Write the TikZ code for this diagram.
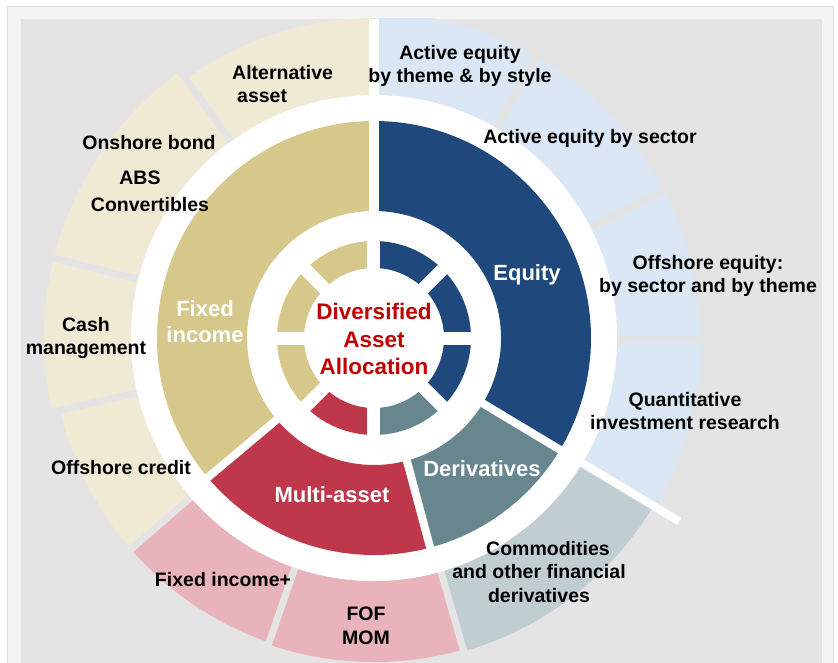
\documentclass[tikz,border=0pt]{standalone}
\usepackage{fontspec}
\setmainfont{Liberation Sans}

\definecolor{bggray}{HTML}{E4E4E4}
\definecolor{framegray}{HTML}{F4F4F4}
\definecolor{equity}{HTML}{1F497D}
\definecolor{fixedinc}{HTML}{D6C78A}
\definecolor{multiasset}{HTML}{BE374A}
\definecolor{deriv}{HTML}{68868D}
\definecolor{equitylt}{HTML}{DCE7F5}
\definecolor{fixedinclt}{HTML}{F0EAD5}
\definecolor{multiassetlt}{HTML}{E8B3BB}
\definecolor{derivlt}{HTML}{C0CDD1}
\definecolor{titlered}{HTML}{C00000}

\begin{document}
\begin{tikzpicture}[x=1pt, y=1pt,
    outlabel/.style={font=\fontsize{19.5}{23.5}\selectfont\bfseries, align=center, inner sep=0pt},
    midlabel/.style={font=\fontsize{22}{26}\selectfont\bfseries, text=white, align=center, inner sep=0pt},
    whitecut/.style={draw=white, line width=8pt}]
  \useasboundingbox (-374,-324) rectangle (464,338);
  % frame
  \filldraw[fill=framegray, draw=black!15] (-367,332) rectangle (459,-340);
  \fill[bggray] (-353,319) rectangle (448,-340);

  % outer ring, one piece per product line
  \begin{scope}
    \clip (-353,319) rectangle (448,-340);
    \foreach \a/\b/\r/\c in {-31/0/328/equitylt, 0/27/326/equitylt, 27/60/325/equitylt, 60/90/325/equitylt,
        90/126/320/fixedinclt, 126/166/330/fixedinclt, 166/193/330/fixedinclt, 193/221/322/fixedinclt,
        221/251/322/multiassetlt, 251/286/324/multiassetlt, 286/329/326/derivlt}{
      \fill[\c] (\a:243pt) arc[start angle=\a, end angle=\b, radius=243pt]
        -- (\b:\r pt) arc[start angle=\b, end angle=\a, radius=\r pt] -- cycle;
    }
    \foreach \a in {0,27,60,126,166,193,221,251,286}
      \draw[bggray, line width=7pt] (\a:200pt) -- (\a:345pt);
  \end{scope}

  \fill[white] (0,0) circle[radius=243pt];

  % main asset classes
  \foreach \a/\b/\c in {-31/90/equity, 90/220/fixedinc, 220/285/multiasset, 285/329/deriv}{
    \fill[\c] (\a:127pt) arc[start angle=\a, end angle=\b, radius=127pt]
      -- (\b:217pt) arc[start angle=\b, end angle=\a, radius=217pt] -- cycle;
  }

  % small inner ring
  \foreach \a/\c in {0/equity, 45/equity, 90/fixedinc, 135/fixedinc, 180/fixedinc,
      225/multiasset, 270/deriv, 315/equity}{
    \fill[\c] (\a:70pt) arc[start angle=\a, delta angle=45, radius=70pt]
      -- ({\a+45}:97pt) arc[start angle=\a+45, delta angle=-45, radius=97pt] -- cycle;
  }
  \foreach \a in {0,45,90,135}
    \draw[white, line width=13pt] (\a:104pt) -- ({\a+180}:104pt);

  % separators
  \draw[whitecut, line width=10pt] (90:110pt) -- (0,319);
  \draw[whitecut] (-31:110pt) -- (-31:356pt);
  \foreach \a in {220,285}
    \draw[whitecut] (\a:110pt) -- (\a:240pt);

  % outer labels
  \node[outlabel] (themeeq) at (86,272) {Active equity\\by theme \& by style};
  \node[outlabel] (sectoreq) at (216,200) {Active equity by sector};
  \node[outlabel] (offeq) at (334,62) {Offshore equity:\\by sector and by theme};
  \node[outlabel] (quant) at (311,-73) {Quantitative\\investment research};
  \node[outlabel] (commod) at (165,-234) {\hspace*{18pt}Commodities\\and other financial\\derivatives};
  \node[outlabel] (fofmom) at (-8,-288) {FOF\\MOM};
  \node[outlabel] (fiplus) at (-151,-242) {Fixed income+};
  \node[outlabel] (offcredit) at (-253,-130) {Offshore credit};
  \node[outlabel] (cash) at (-288,0) {Cash\\management};
  \node[outlabel] (onshore) at (-225,195) {Onshore bond};
  \node[outlabel] (abs) at (-234,160) {ABS};
  \node[outlabel] (convert) at (-224,133) {Convertibles};
  \node[outlabel, anchor=west, align=left] (altasset) at (-142,254) {Alternative\\\hspace{5pt}asset};

  % asset class labels
  \node[midlabel] (equitylbl) at (153,63) {Equity};
  \node[midlabel] (fixedlbl) at (-169,16) {Fixed\\income};
  \node[midlabel] (multilbl) at (-42,-157) {Multi-asset};
  \node[midlabel] (derivlbl) at (108,-131) {Derivatives};
  \node[midlabel, text=titlered, font=\fontsize{22.5}{27.5}\selectfont\bfseries] (core) at (0,-1)
    {Diversified\\Asset\\Allocation};
\end{tikzpicture}
\end{document}
